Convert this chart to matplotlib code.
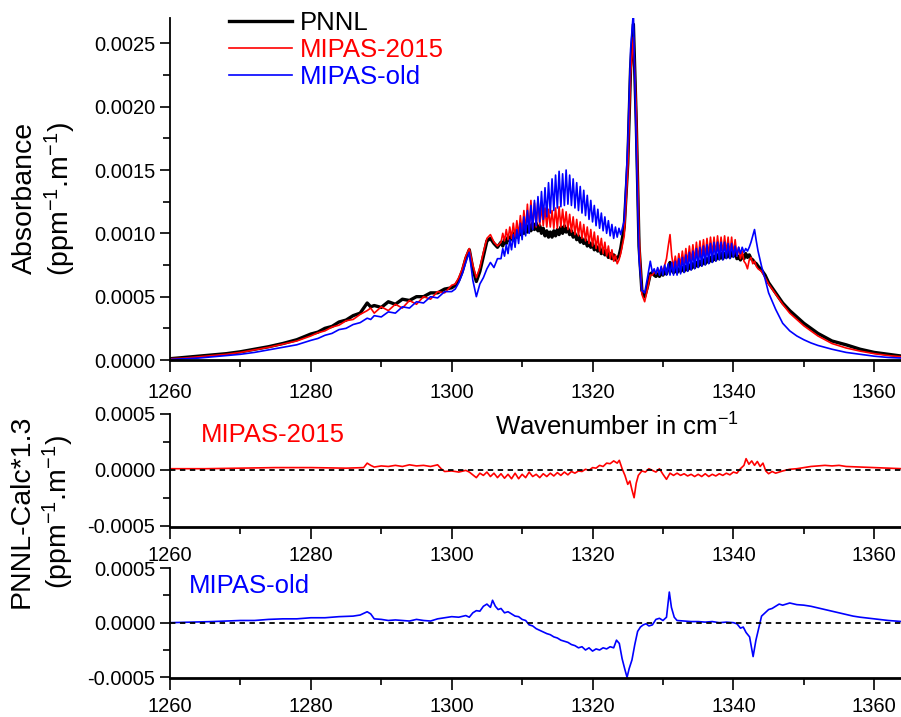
import matplotlib
matplotlib.use("Agg")
import matplotlib.pyplot as plt
from matplotlib.ticker import FormatStrFormatter, MultipleLocator

plt.rcParams["font.family"] = ["Liberation Sans", "DejaVu Sans"]
plt.rcParams["mathtext.default"] = "regular"

# absorbance spectra, values in units of 1e-4 ppm^-1 m^-1
wn_top = [
    # wings and 1300-1307 features
    1260, 1262, 1264, 1266, 1268, 1270, 1272, 1274, 1276, 1278,
    1280, 1281, 1282, 1283, 1284, 1285, 1286, 1287, 1288, 1288.5,
    1289, 1290, 1291, 1292, 1293, 1294, 1295, 1296, 1297, 1298, 1299, 1300,
    1300.5, 1301, 1301.5, 1302, 1302.5, 1303, 1303.5, 1304, 1304.5, 1305,
    1305.5, 1306, 1306.5,
    # P branch
    1307, 1307.25, 1307.5, 1307.75, 1308, 1308.25, 1308.5, 1308.75,
    1309, 1309.25, 1309.5, 1309.75, 1310, 1310.25, 1310.5, 1310.75,
    1311, 1311.25, 1311.5, 1311.75, 1312, 1312.25, 1312.5, 1312.75,
    1313, 1313.25, 1313.5, 1313.75, 1314, 1314.25, 1314.5, 1314.75,
    1315, 1315.25, 1315.5, 1315.75, 1316, 1316.25, 1316.5, 1316.75,
    1317, 1317.25, 1317.5, 1317.75, 1318, 1318.25, 1318.5, 1318.75,
    1319, 1319.25, 1319.5, 1319.75, 1320, 1320.25, 1320.5, 1320.75,
    1321, 1321.25, 1321.5, 1321.75, 1322, 1322.25, 1322.5, 1322.75,
    1323, 1323.25, 1323.5, 1323.75, 1324,
    # Q branch
    1324.5, 1325, 1325.4, 1325.8, 1326.2, 1326.6, 1327, 1327.4, 1327.8, 1328.2,
    # R branch
    1328.5, 1328.75,
    1329, 1329.25, 1329.5, 1329.75, 1330, 1330.25, 1330.5, 1330.75,
    1331, 1331.25, 1331.5, 1331.75, 1332, 1332.25, 1332.5, 1332.75,
    1333, 1333.25, 1333.5, 1333.75, 1334, 1334.25, 1334.5, 1334.75,
    1335, 1335.25, 1335.5, 1335.75, 1336, 1336.25, 1336.5, 1336.75,
    1337, 1337.25, 1337.5, 1337.75, 1338, 1338.25, 1338.5, 1338.75,
    1339, 1339.25, 1339.5, 1339.75, 1340, 1340.25, 1340.5, 1340.75,
    1341, 1341.25, 1341.5, 1341.75, 1342, 1342.25, 1342.5, 1342.75,
    1343, 1343.25, 1343.5,
    # high wing
    1344, 1344.5, 1345, 1346, 1347, 1348, 1349, 1350, 1351, 1352,
    1353, 1354, 1356, 1358, 1360, 1362, 1364,
]

pnnl = [
    0.1, 0.2, 0.3, 0.4, 0.5, 0.65, 0.85, 1.05, 1.3, 1.6,
    2.05, 2.2, 2.5, 2.65, 3.0, 3.15, 3.5, 3.7, 4.5, 4.2,
    4.3, 4.15, 4.6, 4.4, 4.8, 4.7, 5.0, 5.0, 5.3, 5.3, 5.6, 5.7,
    5.9, 6.3, 7.0, 8.0, 8.7, 7.2, 6.2, 7.0, 8.2, 9.4,
    9.6, 9.2, 8.9,
    9.3, 9.0, 9.5, 9.2, 9.7, 9.4, 9.9, 9.5,
    10.1, 9.7, 10.3, 9.9, 10.5, 10.0, 10.6, 10.1,
    10.7, 10.2, 10.8, 10.3, 10.8, 10.2, 10.6, 10.0,
    10.4, 9.8, 10.2, 9.7, 10.1, 9.7, 10.2, 9.8,
    10.3, 9.9, 10.5, 10.0, 10.6, 10.1, 10.4, 9.9,
    10.2, 9.7, 10.0, 9.5, 9.8, 9.3, 9.6, 9.2,
    9.5, 9.0, 9.3, 8.9, 9.2, 8.7, 9.0, 8.6,
    8.9, 8.4, 8.7, 8.3, 8.6, 8.1, 8.4, 8.0,
    8.3, 7.9, 8.1, 8.2, 8.8,
    10.5, 15.5, 23.0, 26.5, 19.0, 9.0, 5.5, 5.0, 5.8, 6.8,
    6.9, 6.7,
    6.6, 6.8, 6.6, 6.9, 6.7, 7.0, 6.8, 7.3,
    7.7, 7.1, 6.9, 7.2, 6.9, 7.2, 7.0, 7.3,
    7.0, 7.4, 7.1, 7.5, 7.2, 7.6, 7.3, 7.7,
    7.4, 7.8, 7.5, 7.9, 7.6, 8.0, 7.7, 8.1,
    7.8, 8.2, 7.9, 8.3, 8.0, 8.4, 8.0, 8.4,
    8.1, 8.5, 8.1, 8.5, 8.2, 8.6, 8.0, 8.2,
    7.9, 8.3, 8.0, 8.4, 8.1, 8.3, 8.0, 7.9,
    7.7, 7.6, 7.4,
    7.1, 6.7, 6.1, 5.3, 4.5, 3.9, 3.4, 2.9, 2.5, 2.1,
    1.8, 1.5, 1.2, 0.85, 0.6, 0.45, 0.3,
]

mipas_2015 = [
    0.1, 0.15, 0.25, 0.35, 0.45, 0.6, 0.8, 1.0, 1.25, 1.5,
    1.9, 2.15, 2.3, 2.6, 2.75, 3.1, 3.2, 3.6, 3.9, 4.1,
    3.7, 4.2, 3.9, 4.4, 4.1, 4.7, 4.4, 5.0, 4.8, 5.4, 5.3, 5.9,
    6.0, 6.5, 7.2, 8.2, 8.8, 7.5, 6.5, 7.3, 8.5, 9.6,
    9.9, 9.3, 9.0,
    9.3, 10.0, 9.4, 10.3, 9.5, 10.5, 9.6, 10.8,
    9.7, 11.0, 9.8, 11.4, 10.0, 11.8, 10.2, 12.3,
    10.3, 12.6, 10.4, 12.4, 10.5, 12.7, 10.6, 12.2,
    10.6, 12.0, 10.5, 11.9, 10.5, 11.8, 10.4, 12.0,
    10.4, 12.1, 10.5, 11.9, 10.5, 11.7, 10.3, 11.5,
    10.1, 11.3, 9.9, 11.1, 9.8, 10.9, 9.6, 10.7,
    9.4, 10.5, 9.2, 10.3, 9.0, 10.1, 8.8, 9.8,
    8.6, 9.6, 8.4, 9.3, 8.2, 9.0, 8.0, 8.7,
    7.8, 8.3, 7.6, 7.9, 8.4,
    9.8, 15.0, 22.5, 25.5, 20.0, 10.0, 5.2, 4.6, 5.6, 6.7,
    6.7, 7.0,
    6.8, 7.2, 6.9, 7.3, 7.0, 7.5, 8.0, 9.0,
    9.9, 8.2, 7.3, 8.2, 7.3, 8.4, 7.4, 8.6,
    7.5, 8.8, 7.6, 9.0, 7.7, 9.1, 7.8, 9.3,
    7.9, 9.4, 8.0, 9.5, 8.1, 9.6, 8.2, 9.7,
    8.3, 9.7, 8.3, 9.8, 8.4, 9.7, 8.4, 9.8,
    8.4, 9.7, 8.3, 9.7, 8.3, 9.5, 8.2, 8.9,
    8.0, 8.6, 7.8, 7.6, 7.2, 7.9, 8.1, 7.6,
    7.8, 7.4, 7.2,
    7.0, 6.5, 6.0, 5.2, 4.4, 3.7, 3.2, 2.7, 2.3, 1.9,
    1.6, 1.3, 0.95, 0.7, 0.5, 0.35, 0.25,
]

mipas_old = [
    0.05, 0.1, 0.15, 0.25, 0.35, 0.45, 0.6, 0.8, 1.0, 1.2,
    1.55, 1.7, 1.95, 2.1, 2.4, 2.5, 2.8, 2.95, 3.3, 3.2,
    3.5, 3.4, 3.8, 3.7, 4.2, 4.1, 4.6, 4.5, 5.0, 4.9, 5.4, 5.4,
    5.6, 6.1, 6.8, 7.7, 8.5, 6.3, 5.0, 6.0, 6.5, 7.2,
    7.7, 7.3, 8.0,
    8.0, 8.8, 8.2, 9.1, 8.4, 9.5, 8.7, 9.9,
    8.9, 10.3, 9.2, 10.8, 9.5, 11.3, 9.8, 11.8,
    10.0, 12.2, 10.3, 12.6, 10.6, 12.9, 10.9, 13.3,
    11.1, 13.6, 11.3, 14.0, 11.6, 14.3, 11.8, 14.6,
    12.0, 14.9, 12.1, 14.7, 12.2, 15.0, 12.3, 14.6,
    12.2, 14.3, 12.0, 14.0, 11.8, 13.7, 11.6, 13.4,
    11.4, 13.0, 11.1, 12.6, 10.9, 12.2, 10.6, 11.9,
    10.4, 11.6, 10.2, 11.3, 10.0, 11.0, 9.8, 10.7,
    9.6, 10.5, 9.7, 10.4, 9.9,
    11.0, 17.0, 24.5, 27.5, 17.0, 8.0, 5.5, 5.3, 6.5, 7.8,
    6.9, 7.2,
    6.8, 7.3, 6.7, 7.4, 6.7, 7.5, 6.7, 7.6,
    6.7, 7.7, 6.7, 7.8, 6.7, 8.0, 6.8, 8.1,
    6.9, 8.3, 7.0, 8.5, 7.1, 8.6, 7.2, 8.8,
    7.3, 8.9, 7.4, 9.0, 7.5, 9.1, 7.6, 9.2,
    7.7, 9.3, 7.8, 9.3, 7.9, 9.3, 7.9, 9.3,
    8.0, 9.2, 8.0, 9.2, 8.1, 9.0, 8.2, 8.9,
    8.4, 8.9, 8.5, 8.8, 8.6, 8.9, 9.3, 9.8,
    10.3, 9.4, 8.6,
    7.4, 6.4, 5.3, 4.0, 2.9, 2.3, 1.9, 1.6, 1.35, 1.15,
    1.0, 0.85, 0.6, 0.45, 0.3, 0.2, 0.15,
]

# residuals PNNL - calc*1.3, units of 1e-4
wn_res_2015 = [
    1260, 1265, 1270, 1275, 1280, 1285, 1287.5, 1288, 1288.5, 1289,
    1290, 1291, 1292, 1293, 1294, 1295, 1296, 1297, 1298, 1298.5,
    1299, 1300, 1301, 1302, 1302.5, 1303, 1303.5, 1304, 1304.5, 1305,
    1305.5, 1306, 1306.5, 1307, 1307.5, 1308, 1308.5, 1309, 1309.5, 1310,
    1310.5, 1311, 1311.5, 1312, 1312.5, 1313, 1313.5, 1314, 1314.5, 1315,
    1315.5, 1316, 1316.5, 1317, 1317.5, 1318, 1318.5, 1319, 1319.5, 1320,
    1320.5, 1321, 1321.5, 1322, 1322.5, 1323, 1323.5, 1323.8, 1324.2, 1324.6,
    1325, 1325.3, 1325.6, 1325.9, 1326.2, 1326.5, 1327, 1327.5, 1328, 1328.5,
    1329, 1329.5, 1330, 1330.5, 1331, 1331.5, 1332, 1332.5, 1333, 1333.5,
    1334, 1334.5, 1335, 1335.5, 1336, 1336.5, 1337, 1337.5, 1338, 1338.5,
    1339, 1339.5, 1340, 1340.5, 1341, 1341.5, 1341.8, 1342.2, 1342.6, 1343,
    1343.4, 1343.8, 1344.2, 1344.6, 1345, 1345.5, 1346, 1347, 1348, 1349,
    1350, 1351, 1352, 1353, 1354, 1355, 1356, 1358, 1360, 1362, 1364,
]
res_2015 = [
    0.1, 0.1, 0.15, 0.2, 0.2, 0.15, 0.2, 0.6, 0.4, 0.25,
    0.35, 0.3, 0.4, 0.3, 0.45, 0.35, 0.4, 0.3, 0.45, 0.1,
    -0.15, -0.1, -0.2, -0.05, -0.2, -0.45, -0.7, -0.3, -0.5, -0.2,
    -0.6, -0.3, -0.7, -0.35, -0.75, -0.4, -0.8, -0.3, -0.8, -0.4,
    -0.7, -0.2, -0.6, -0.4, -0.7, -0.35, -0.6, -0.3, -0.55, -0.25,
    -0.5, -0.2, -0.45, -0.15, -0.3, -0.1, -0.15, 0.05, -0.05, 0.2,
    0.15, 0.4, 0.3, 0.6, 0.55, 0.8, 0.6, 0.85, 0.1, -0.5,
    -1.3, -1.0, -1.8, -2.5, -1.2, -0.5, -0.1, -0.2, 0.1, -0.05,
    -0.2, 0.1, -0.4, -0.85, -0.3, -0.5, -0.3, -0.5, -0.35, -0.55,
    -0.4, -0.6, -0.4, -0.6, -0.35, -0.6, -0.4, -0.55, -0.35, -0.5,
    -0.3, -0.45, -0.2, -0.3, 0.1, 0.4, 1.0, 0.5, 0.8, 0.4,
    0.75, 0.3, 0.6, -0.1, -0.35, -0.15, -0.3, -0.1, 0.05, 0.1,
    0.2, 0.3, 0.35, 0.4, 0.35, 0.4, 0.3, 0.25, 0.2, 0.15, 0.1,
]

wn_res_old = [
    1260, 1263, 1266, 1268, 1270, 1272, 1274, 1276, 1278, 1280,
    1282, 1284, 1286, 1287, 1288, 1288.5, 1289, 1290, 1291, 1292,
    1293, 1294, 1295, 1296, 1297, 1298, 1299, 1300, 1301, 1302,
    1302.5, 1303, 1303.5, 1304, 1304.5, 1305, 1305.5, 1305.8, 1306.2, 1306.6,
    1307, 1307.5, 1308, 1308.5, 1309, 1309.5, 1310, 1310.5, 1311, 1311.5,
    1312, 1312.5, 1313, 1313.5, 1314, 1314.5, 1315, 1315.5, 1316, 1316.5,
    1317, 1317.5, 1318, 1318.5, 1319, 1319.5, 1320, 1320.5, 1321, 1321.5,
    1322, 1322.5, 1323, 1323.4, 1323.8, 1324.2, 1324.6, 1324.9, 1325.2, 1325.6,
    1326, 1326.4, 1326.8, 1327.2, 1327.6, 1328, 1328.5, 1329, 1329.5, 1330,
    1330.5, 1330.9, 1331.2, 1331.6, 1332, 1333, 1334, 1335, 1336, 1337,
    1338, 1339, 1340, 1340.5, 1341, 1341.4, 1341.8, 1342.3, 1342.8, 1343.2,
    1343.6, 1344, 1344.5, 1345, 1345.5, 1346, 1346.5, 1347, 1348, 1349,
    1350, 1351, 1352, 1353, 1354, 1355, 1356, 1357, 1358, 1360, 1362, 1364,
]
res_old = [
    0.0, 0.05, 0.1, 0.15, 0.2, 0.2, 0.3, 0.35, 0.35, 0.45,
    0.45, 0.55, 0.6, 0.7, 1.0, 0.8, 0.35, 0.3, 0.2, 0.25,
    0.2, 0.15, 0.3, 0.2, 0.15, 0.35, 0.45, 0.55, 0.5, 0.65,
    0.5, 0.9, 1.1, 1.05, 1.5, 1.7, 1.4, 2.05, 1.5, 1.2,
    1.3, 0.9, 1.0, 0.8, 0.6, 0.55, 0.3, 0.2, -0.2, -0.3,
    -0.55, -0.7, -0.85, -1.0, -1.1, -1.3, -1.4, -1.6, -1.7, -1.8,
    -2.0, -2.1, -2.3, -2.2, -2.5, -2.3, -2.6, -2.4, -2.5, -2.3,
    -2.4, -2.2, -2.3, -1.6, -1.9, -3.3, -4.3, -5.0, -4.2, -3.4,
    -2.0, -0.8, -0.4, -0.2, -0.1, -0.3, -0.2, 0.3, 0.4, 0.2,
    0.5, 2.8, 1.4, 0.5, 0.2, 0.15, 0.1, 0.1, 0.05, 0.1,
    0.0, 0.05, 0.0, -0.1, -0.5, -0.4, -0.9, -1.3, -3.1, -1.6,
    -0.5, 0.6, 0.9, 1.2, 1.3, 1.5, 1.7, 1.6, 1.8, 1.65,
    1.6, 1.5, 1.35, 1.2, 1.05, 0.9, 0.75, 0.6, 0.5, 0.35, 0.2, 0.1,
]

SCALE = 1e-4
W, H = 901, 717


def style_axis(ax, xpad):
    ax.spines["top"].set_visible(False)
    ax.spines["right"].set_visible(False)
    ax.spines["left"].set_linewidth(1.3)
    ax.spines["bottom"].set_linewidth(2.0)
    ax.set_xlim(1260, 1363.8)
    ax.xaxis.set_major_locator(MultipleLocator(20))
    ax.xaxis.set_minor_locator(MultipleLocator(10))
    ax.yaxis.set_major_formatter(FormatStrFormatter("%.4f"))
    ax.tick_params(axis="both", which="both", direction="out", width=1.2,
                   labelsize=14.5, top=False, right=False)
    ax.tick_params(axis="x", which="major", length=8.5, pad=xpad)
    ax.tick_params(axis="x", which="minor", length=5)
    ax.tick_params(axis="y", which="major", length=7.5, pad=3)
    ax.tick_params(axis="y", which="minor", length=5)


fig = plt.figure(figsize=(W / 100, H / 100), dpi=100)
ax_top = fig.add_axes([170 / W, (H - 360) / H, 731 / W, 342 / H])
ax_mid = fig.add_axes([170 / W, (H - 527) / H, 731 / W, 113 / H])
ax_bot = fig.add_axes([170 / W, (H - 678) / H, 731 / W, 110 / H])

ax_top.plot(wn_top, [v * SCALE for v in pnnl], color="black", lw=2.4, label="PNNL")
ax_top.plot(wn_top, [v * SCALE for v in mipas_2015], color="#ff0000", lw=1.2, label="MIPAS-2015")
ax_top.plot(wn_top, [v * SCALE for v in mipas_old], color="#0000ff", lw=1.2, label="MIPAS-old")
style_axis(ax_top, 8)
ax_top.set_ylim(0, 0.0027)
ax_top.yaxis.set_major_locator(MultipleLocator(0.0005))
ax_top.yaxis.set_minor_locator(MultipleLocator(0.00025))
ax_top.legend(loc="upper left", bbox_to_anchor=(229 / W, 1 - 11 / H),
              bbox_transform=fig.transFigure, frameon=False, fontsize=18.5,
              handlelength=2.45, handletextpad=0.3, labelspacing=0.12,
              borderpad=0, borderaxespad=0, labelcolor="linecolor")

ax_mid.plot(wn_res_2015, [v * SCALE for v in res_2015], color="#ff0000", lw=1.2)
ax_bot.plot(wn_res_old, [v * SCALE for v in res_old], color="#0000ff", lw=1.2)
for ax, lo in ((ax_mid, -0.000512), (ax_bot, -0.000506)):
    ax.axhline(0, color="black", lw=1.3, ls=(0, (3, 2.5)), zorder=3)
    style_axis(ax, 5)
    ax.set_ylim(lo, 0.0005)
    ax.set_yticks([-0.0005, 0.0, 0.0005])
    ax.yaxis.set_minor_locator(MultipleLocator(0.00025))
    ax.yaxis.set_major_formatter(FormatStrFormatter("%.4f"))

fig.text(201 / W, 1 - 435 / H, "MIPAS-2015", color="#ff0000", fontsize=18.5,
         ha="left", va="center")
fig.text(189 / W, 1 - 586 / H, "MIPAS-old", color="#0000ff", fontsize=18.5,
         ha="left", va="center")
fig.text(617 / W, 1 - 427 / H, "Wavenumber in cm$^{-1}$", fontsize=18.5,
         ha="center", va="center")

fig.text(25 / W, 1 - 198 / H, "Absorbance", fontsize=20.5, rotation=90,
         ha="center", va="center")
fig.text(60 / W, 1 - 199 / H, "(ppm$^{-1}$.m$^{-1}$)", fontsize=20.5, rotation=90,
         ha="center", va="center")
fig.text(22 / W, 1 - 511 / H, "PNNL-Calc*1.3", fontsize=20.5, rotation=90,
         ha="center", va="center")
fig.text(58 / W, 1 - 512 / H, "(ppm$^{-1}$.m$^{-1}$)", fontsize=20.5, rotation=90,
         ha="center", va="center")

fig.savefig("out.png", dpi=100)
plt.close(fig)
